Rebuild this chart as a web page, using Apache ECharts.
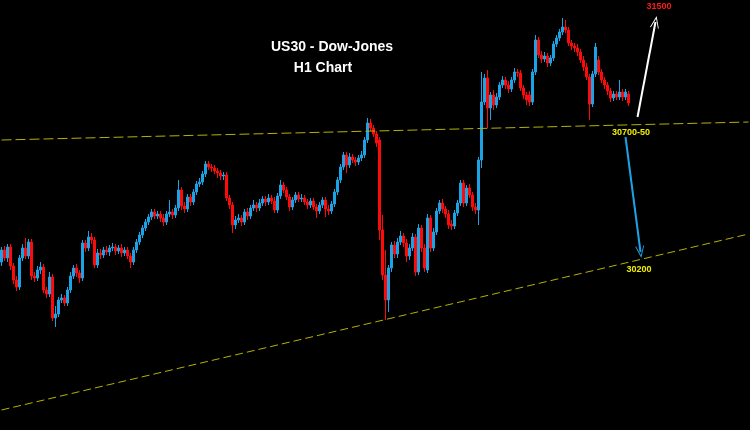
<!DOCTYPE html>
<html><head><meta charset="utf-8">
<script src="https://cdn.jsdelivr.net/npm/echarts@6/dist/echarts.min.js"></script>
<style>html,body{margin:0;padding:0;background:#000;}#c{width:750px;height:430px;}</style>
</head><body><div id="c"></div>
<script>
// ---- Data (US30 H1 candles) ----
const opens = [
30212,30260,30228,30272,30196,30140,30112,30228,30268,30236,
30292,30156,30148,30180,30192,30100,30084,30152,29988,30004,
30060,30068,30048,30100,30156,30188,30168,30148,30288,30268,
30312,30300,30200,30248,30240,30260,30252,30268,30272,30256,
30268,30248,30260,30236,30212,30260,30292,30320,30348,30372,
30392,30412,30396,30404,30388,30372,30404,30412,30400,30428,
30500,30436,30424,30472,30452,30492,30524,30532,30564,30604,
30592,30588,30576,30568,30556,30560,30468,30440,30360,30380,
30388,30372,30412,30396,30428,30440,30428,30448,30464,30452,
30468,30456,30420,30476,30520,30500,30472,30432,30460,30480,
30464,30468,30452,30440,30456,30432,30416,30440,30460,30424,
30416,30444,30492,30540,30592,30640,30600,30632,30620,30612,
30628,30640,30700,30768,30748,30724,30700,30340,30160,30060,
30188,30280,30244,30292,30316,30288,30236,30268,30312,30172,
30348,30268,30180,30388,30268,30332,30416,30448,30424,30404,
30364,30356,30408,30448,30528,30448,30508,30480,30432,30420,
30620,30852,30948,30828,30880,30840,30872,30920,30940,30920,
30904,30940,30972,30968,30908,30880,30880,30852,30972,31100,
31040,31024,31036,31008,31028,31084,31108,31132,31152,31140,
31088,31076,31068,31052,31020,30992,30952,30844,30964,31020,
30972,30940,30920,30896,30868,30884,30872,30892,30872,30884
];
const closes = [
30260,30228,30272,30196,30140,30112,30228,30268,30236,30292,
30156,30148,30180,30192,30100,30084,30152,29988,30004,30060,
30068,30048,30100,30156,30188,30168,30148,30288,30268,30312,
30300,30200,30248,30240,30260,30252,30268,30272,30256,30268,
30248,30260,30236,30212,30260,30292,30320,30348,30372,30392,
30412,30396,30404,30388,30372,30404,30412,30400,30428,30500,
30436,30424,30472,30452,30492,30524,30532,30564,30604,30592,
30588,30576,30568,30556,30560,30468,30440,30360,30380,30388,
30372,30412,30396,30428,30440,30428,30448,30464,30452,30468,
30456,30420,30476,30520,30500,30472,30432,30460,30480,30464,
30468,30452,30440,30456,30432,30416,30440,30460,30424,30416,
30444,30492,30540,30592,30640,30600,30632,30620,30612,30628,
30640,30700,30768,30748,30724,30688,30340,30160,30060,30188,
30280,30244,30292,30316,30288,30236,30268,30312,30172,30348,
30268,30188,30388,30268,30332,30416,30448,30424,30404,30360,
30356,30408,30448,30528,30448,30508,30480,30432,30420,30620,
30852,30948,30828,30880,30840,30872,30920,30940,30920,30904,
30940,30972,30968,30908,30880,30860,30852,30972,31100,31040,
31024,31036,31008,31028,31084,31108,31132,31152,31140,31088,
31076,31068,31052,31020,30992,30952,30844,30964,31072,30972,
30940,30920,30896,30868,30884,30872,30892,30872,30892,30848
];
const lows = [
30196,30216,30212,30180,30124,30096,30100,30216,30224,30224,
30140,30132,30136,30164,30088,30068,30072,29976,29952,29992,
30048,30036,30036,30088,30144,30152,30128,30136,30252,30256,
30284,30188,30188,30224,30228,30240,30236,30256,30240,30244,
30232,30236,30224,30188,30200,30248,30280,30308,30336,30360,
30380,30384,30384,30372,30356,30360,30392,30384,30388,30416,
30420,30408,30412,30436,30440,30480,30512,30520,30552,30580,
30572,30564,30548,30540,30540,30456,30424,30328,30344,30368,
30356,30360,30380,30384,30416,30412,30416,30436,30436,30440,
30444,30408,30408,30464,30488,30460,30416,30420,30448,30452,
30452,30440,30424,30428,30420,30388,30404,30428,30392,30400,
30404,30432,30480,30528,30580,30568,30588,30608,30596,30600,
30616,30628,30688,30736,30712,30672,30300,30140,29980,30012,
30172,30228,30228,30280,30272,30212,30220,30256,30156,30160,
30252,30172,30168,30252,30256,30320,30404,30408,30388,30344,
30340,30344,30396,30436,30432,30436,30468,30416,30404,30360,
30588,30840,30748,30780,30820,30828,30860,30908,30904,30888,
30892,30928,30952,30896,30864,30840,30836,30840,30960,31028,
31008,31012,30992,30996,31016,31072,31096,31120,31128,31076,
31060,31052,31036,31008,30976,30940,30780,30832,30952,30960,
30928,30904,30880,30852,30856,30860,30860,30856,30860,30836
];
const highs = [
30272,30276,30284,30284,30208,30156,30240,30284,30308,30304,
30304,30172,30196,30212,30204,30112,30172,30164,30036,30072,
30084,30080,30112,30172,30200,30204,30180,30300,30300,30336,
30328,30312,30264,30264,30272,30276,30280,30288,30284,30280,
30284,30272,30272,30248,30272,30304,30332,30360,30384,30404,
30424,30424,30416,30416,30404,30416,30460,30424,30440,30540,
30512,30452,30484,30484,30504,30536,30548,30576,30616,30616,
30604,30600,30588,30580,30572,30572,30480,30452,30396,30404,
30400,30424,30428,30440,30460,30452,30464,30476,30476,30484,
30480,30472,30488,30540,30532,30512,30484,30472,30492,30492,
30484,30480,30464,30468,30468,30444,30452,30472,30472,30440,
30456,30504,30552,30604,30652,30652,30648,30644,30632,30640,
30656,30712,30788,30784,30760,30736,30712,30400,30260,30200,
30292,30296,30308,30336,30328,30304,30284,30328,30324,30364,
30360,30284,30404,30400,30348,30428,30460,30464,30436,30420,
30380,30420,30460,30540,30540,30520,30524,30492,30448,30632,
30972,30964,30980,30892,30900,30888,30932,30956,30952,30936,
30952,30988,30984,30980,30920,30892,30896,30984,31120,31112,
31056,31052,31048,31040,31096,31120,31144,31188,31180,31152,
31100,31088,31084,31064,31036,31008,30964,30976,31088,31036,
30984,30952,30932,30908,30896,30896,30940,30904,30904,30896
];
// Price levels / annotations
const lastPriceLevel = 30844;
const upperTrend = [30700, 30772];   // first slot, last slot
const lowerTrend = [29620, 30324];   // first slot, last slot
const bullArrow = [[212, 30792], [218, 31172]];
const bearArrow = [[208, 30712], [213, 30252]];
const titleLines = ['US30 - Dow-Jones', 'H1 Chart'];
const targetLabels = ['31500', '30700-50', '30200'];

const slotCount = 250; // chart area extends to the right of the last candle
const categories = Array.from({length: slotCount}, (_, i) => 'H' + i);
const candles = opens.map((o, i) => [o, closes[i], lows[i], highs[i]]);

const UP = '#1ca3e6', DOWN = '#ff0a0a', TREND = '#b8b000';
const chevron = 'path://M0,10 L5,0 L10,10 L9,10 L5,2.2 L1,10 Z';

const chart = echarts.init(document.getElementById('c'), null, {renderer: 'canvas'});
chart.setOption({
  backgroundColor: '#000000',
  animation: false,
  grid: {left: 0, right: 0, top: 0, bottom: 0},
  xAxis: {type: 'category', data: categories, show: false, boundaryGap: true},
  yAxis: {type: 'value', min: 29540, max: 31260, show: false},
  series: [{
    type: 'candlestick',
    data: candles,
    barWidth: 2,
    silent: true,
    itemStyle: {color: UP, color0: DOWN, borderColor: UP, borderColor0: DOWN, borderWidth: 1},
    markLine: {
      silent: true,
      animation: false,
      label: {show: false},
      emphasis: {disabled: true},
      symbol: ['none', 'none'],
      data: [
        [{coord: [0, upperTrend[0]], symbol: 'none', lineStyle: {color: TREND, type: [10, 4], width: 1}},
         {coord: [slotCount - 1, upperTrend[1]], symbol: 'none'}],
        [{coord: [0, lowerTrend[0]], symbol: 'none', lineStyle: {color: TREND, type: [8, 4], width: 1}},
         {coord: [slotCount - 1, lowerTrend[1]], symbol: 'none'}],
        [{yAxis: lastPriceLevel, symbol: 'none', lineStyle: {color: '#8a93a8', type: 'solid', width: 1}},
         {yAxis: lastPriceLevel, symbol: 'none'}],
        [{coord: bullArrow[0], symbol: 'none', lineStyle: {color: '#ffffff', type: 'solid', width: 2}},
         {coord: bullArrow[1], symbol: chevron, symbolSize: [9, 12]}],
        [{coord: bearArrow[0], symbol: 'none', lineStyle: {color: '#1ca3e6', type: 'solid', width: 2}},
         {coord: bearArrow[1], symbol: chevron, symbolSize: [9, 12]}]
      ]
    }
  }],
  graphic: [
    {type: 'text', x: 332, y: 47, silent: true, style: {text: titleLines[0], fill: '#ffffff', font: 'bold 14px "Liberation Sans", Arial, sans-serif', align: 'center', verticalAlign: 'middle'}},
    {type: 'text', x: 323, y: 68, silent: true, style: {text: titleLines[1], fill: '#ffffff', font: 'bold 14px "Liberation Sans", Arial, sans-serif', align: 'center', verticalAlign: 'middle'}},
    {type: 'text', x: 659, y: 7, silent: true, style: {text: targetLabels[0], fill: '#ff1a1a', font: 'bold 9px "Liberation Sans", Arial, sans-serif', align: 'center', verticalAlign: 'middle'}},
    {type: 'text', x: 631, y: 133, silent: true, style: {text: targetLabels[1], fill: '#f0f000', font: 'bold 9px "Liberation Sans", Arial, sans-serif', align: 'center', verticalAlign: 'middle'}},
    {type: 'text', x: 639, y: 270, silent: true, style: {text: targetLabels[2], fill: '#f0f000', font: 'bold 9px "Liberation Sans", Arial, sans-serif', align: 'center', verticalAlign: 'middle'}}
  ]
});
</script></body></html>
